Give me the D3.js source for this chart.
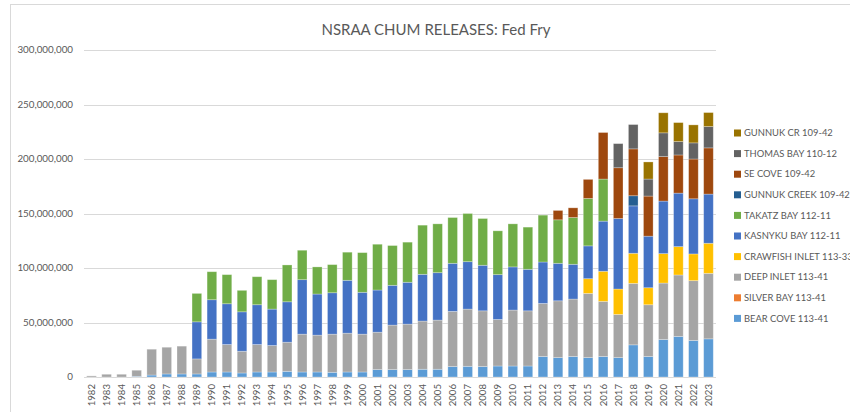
<!DOCTYPE html>
<html><head><meta charset="utf-8">
<script src="https://cdn.jsdelivr.net/npm/d3@7"></script>
<style>
html,body{margin:0;padding:0;background:#fff;}
svg{display:block;font-family:Lato, "Open Sans", sans-serif;}
</style></head>
<body>
<svg id="c" width="850" height="412"></svg>
<script>
// Data (millions of fry)
const years = d3.range(1982, 2024).map(String);
const seriesNames = ["BEAR COVE 113-41","SILVER BAY 113-41","DEEP INLET 113-41","CRAWFISH INLET 113-33","KASNYKU BAY 112-11","TAKATZ BAY 112-11","GUNNUK CREEK 109-42","SE COVE 109-42","THOMAS BAY 110-12","GUNNUK CR 109-42"];
const seriesColors = ["#5B9BD5","#ED7D31","#A5A5A5","#FFC000","#4472C4","#70AD47","#255E91","#9E480E","#636363","#997300"];
const bearCove    = [0,0,0,0.6,1.8,2.8,2.8,2.8,4.6,4.6,3.7,4.6,4.6,5.2,4.6,4.6,4.3,4.6,4.6,6.8,6.8,6.8,7.1,7.1,9.6,9.8,9.6,10.1,10.1,10.1,18.8,17.8,18.8,17.8,18.8,17.8,29.5,18.8,34.4,37.2,33.5,35.0];
const silverBay   = [0,0,0,0,0,0,0,0,0,0,0,0,0,0,0,0,0,0,0,0,0,0,0,0,0,0,0,0,0,0,0,0,0,0,0,0,0,0,0,0,0,0];
const deepInlet   = [1.0,2.5,2.5,5.6,23.7,24.5,25.5,13.8,30.1,25.2,19.9,25.2,24.3,26.7,34.7,33.8,35.0,35.6,34.7,34.3,40.8,41.7,44.2,45.1,50.6,52.5,51.1,42.7,51.3,50.6,48.7,52.1,52.7,58.9,50.6,39.6,56.4,47.5,51.8,56.4,54.9,60.1];
const crawfish    = [0,0,0,0,0,0,0,0,0,0,0,0,0,0,0,0,0,0,0,0,0,0,0,0,0,0,0,0,0,0,0,0,0,13.5,27.6,23.3,27.6,15.6,27.0,26.0,24.5,27.6];
const kasnyku     = [0,0,0,0,0,0,0,34.0,36.2,37.4,36.2,36.5,33.4,37.1,50.0,37.7,38.0,48.5,38.4,38.7,36.5,38.4,42.9,43.5,44.1,43.5,41.8,41.1,39.6,38.1,38.0,34.4,31.9,30.1,46.0,64.7,43.5,47.3,48.2,49.1,50.6,45.1];
const takatz      = [0,0,0,0,0,0,0,26.1,25.7,26.7,19.7,25.7,27.0,33.8,27.0,24.9,25.8,25.8,36.4,42.0,36.5,36.8,45.1,44.8,42.0,44.2,42.9,40.2,39.5,38.7,43.0,39.9,42.9,43.5,38.6,0,0,0,0,0,0,0];
const gunnukCreek = [0,0,0,0,0,0,0,0,0,0,0,0,0,0,0,0,0,0,0,0,0,0,0,0,0,0,0,0,0,0,0,0,0,0,0,0,9.3,0,0,0,0,0];
const seCove      = [0,0,0,0,0,0,0,0,0,0,0,0,0,0,0,0,0,0,0,0,0,0,0,0,0,0,0,0,0,0,0,8.6,8.9,17.5,42.7,46.6,43.0,36.8,40.8,35.0,36.5,42.4];
const thomasBay   = [0,0,0,0,0,0,0,0,0,0,0,0,0,0,0,0,0,0,0,0,0,0,0,0,0,0,0,0,0,0,0,0,0,0,0,22.1,22.3,15.6,21.8,12.3,14.8,19.6];
const gunnukCr    = [0,0,0,0,0,0,0,0,0,0,0,0,0,0,0,0,0,0,0,0,0,0,0,0,0,0,0,0,0,0,0,0,0,0,0,0,0,15.7,18.4,17.4,16.5,12.8];
const yTicks = [0,50,100,150,200,250,300];
</script>
<script>
const seriesData = [bearCove, silverBay, deepInlet, crawfish, kasnyku, takatz, gunnukCreek, seCove, thomasBay, gunnukCr];
const table = years.map((y, i) => {
  const o = {year: y};
  seriesNames.forEach((n, k) => o[n] = seriesData[k][i]);
  return o;
});
const stack = d3.stack().keys(seriesNames)(table);

const svg = d3.select("#c");
// frame
svg.append("rect").attr("x",10.5).attr("y",4.5).attr("width",900).attr("height",500)
  .attr("fill","none").attr("stroke","#d9d9d9").attr("stroke-width",1);

const x = d3.scaleBand().domain(years).range([84,716]).paddingInner(0.36).paddingOuter(0.18);
const y = d3.scaleLinear().domain([0,300]).range([377,50]);

// grid
svg.append("g").selectAll("line").data(yTicks).join("line")
  .attr("x1",84).attr("x2",716)
  .attr("y1",d=>Math.round(y(d))+0.5).attr("y2",d=>Math.round(y(d))+0.5)
  .attr("stroke","#d9d9d9").attr("stroke-width",1);

// y labels
const fmt = d3.format(",");
svg.append("g").selectAll("text").data(yTicks).join("text")
  .attr("x",73).attr("y",d=>y(d)).attr("dy","0.35em")
  .attr("text-anchor","end").attr("font-size",9.8).attr("fill","#595959")
  .text(d=>fmt(d*1000000));

// bars
svg.append("g").selectAll("g").data(stack).join("g")
  .attr("fill",(d,i)=>seriesColors[i])
  .selectAll("rect").data(d=>d.filter(s=>s[1]-s[0]>0)).join("rect")
  .attr("x",d=>x(d.data.year)).attr("width",x.bandwidth())
  .attr("y",d=>y(d[1])).attr("height",d=>y(d[0])-y(d[1]))
  .attr("stroke","#ffffff").attr("stroke-opacity",0.35).attr("stroke-width",0.8);

// x labels
svg.append("g").selectAll("text").data(years).join("text")
  .attr("transform",d=>`translate(${x(d)+x.bandwidth()/2},384) rotate(-90)`)
  .attr("dy","0.35em").attr("text-anchor","end")
  .attr("font-size",9.6).attr("fill","#595959").text(d=>d);

// title
svg.append("text").attr("x",436).attr("y",35).attr("text-anchor","middle")
  .attr("font-size",15).attr("fill","#595959").text("NSRAA CHUM RELEASES: Fed Fry");

// legend
const leg = svg.append("g").selectAll("g").data(seriesNames.slice().reverse()).join("g")
  .attr("transform",(d,i)=>`translate(734,${133 + i*20.6})`);
leg.append("rect").attr("x",0).attr("y",-3.5).attr("width",7).attr("height",7)
  .attr("fill",d=>seriesColors[seriesNames.indexOf(d)]);
leg.append("text").attr("x",10).attr("dy","0.35em").attr("font-size",9.4)
  .attr("fill","#595959").text(d=>d);
</script>
</body></html>
